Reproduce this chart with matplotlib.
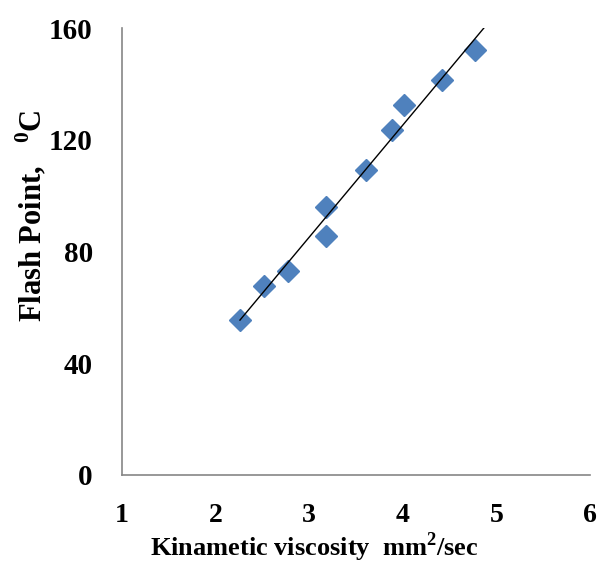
import numpy as np
import matplotlib
matplotlib.use("Agg")
import matplotlib.pyplot as plt

plt.rcParams['font.family'] = ['Liberation Serif', 'DejaVu Serif']
plt.rcParams['mathtext.fontset'] = 'custom'
plt.rcParams['mathtext.rm'] = 'Liberation Serif'
plt.rcParams['mathtext.bf'] = 'Liberation Serif:bold'

# Kinematic viscosity (mm^2/s) and flash point (deg C)
viscosity = [2.26, 2.52, 2.77, 3.18, 3.18, 3.61, 3.88, 4.01, 4.42, 4.77]
flash_point = [55.5, 67.5, 73.0, 96.0, 85.5, 109.0, 123.5, 132.5, 141.5, 152.0]

x_ticks = [1, 2, 3, 4, 5, 6]
y_ticks = [0, 40, 80, 120, 160]

fig = plt.figure(figsize=(5.98, 5.72), dpi=100)
ax = fig.add_axes([0.204, 0.170, 0.783, 0.781])

ax.plot(viscosity, flash_point, linestyle='none', marker='D', markersize=11,
        color='#4F81BD', markeredgecolor='#4F81BD', zorder=3)

# Linear trend line
slope, intercept = np.polyfit(viscosity, flash_point, 1)
x_end = (160 - intercept) / slope
xs = np.array([min(viscosity), x_end])
ax.plot(xs, slope * xs + intercept, color='black', linewidth=1.0, zorder=4)

ax.set_xlim(1, 6)
ax.set_ylim(0, 160)
ax.set_xticks(x_ticks)
ax.set_yticks(y_ticks)
ax.tick_params(length=0, labelsize=21)
ax.tick_params(axis='x', labelsize=20, pad=20)
ax.tick_params(axis='y', pad=21)
for lab in ax.get_xticklabels() + ax.get_yticklabels():
    lab.set_fontweight('bold')

for side in ('top', 'right'):
    ax.spines[side].set_visible(False)
for side in ('left', 'bottom'):
    ax.spines[side].set_color('#868686')
    ax.spines[side].set_linewidth(1.2)

fig.text(0.525, 0.028, r'Kinametic viscosity  mm$^{\mathbf{2}}$/sec',
         fontsize=19, fontweight='bold', ha='center', va='baseline')
fig.text(0.052, 0.622, r'Flash Point,   $^{\mathbf{0}}$C', fontsize=22,
         fontweight='bold', ha='center', va='center', rotation=90)

fig.savefig('out.png', dpi=100)
